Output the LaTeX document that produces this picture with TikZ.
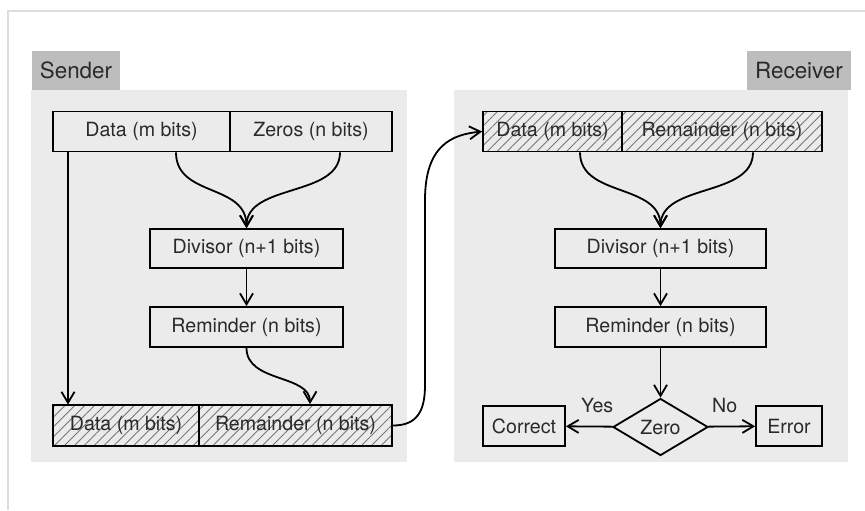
\documentclass[tikz,border=0pt]{standalone}
\usepackage{fontspec}
\setmainfont{TeX Gyre Heros}
\usetikzlibrary{shapes.geometric,arrows.meta,patterns.meta}
\definecolor{panelgray}{HTML}{EBEBEB}
\definecolor{taggray}{HTML}{BDBDBD}
\definecolor{inkgray}{HTML}{2A2A2A}
\definecolor{hatchgray}{HTML}{777777}
\definecolor{framegray}{HTML}{DDDDDD}

\begin{document}
\begin{tikzpicture}[x=0.5pt,y=-0.5pt,
	>={Straight Barb[length=5.5pt,width=6.5pt]},
	field/.style={draw,line width=0.9pt,inner sep=0pt,minimum height=20pt,text=inkgray,font=\fontsize{9.8}{11}\selectfont},
	sent/.style={field,pattern={Lines[angle=45,distance=3.5pt,line width=0.45pt]},pattern color=hatchgray},
	tag/.style={fill=taggray,inner sep=0pt,minimum height=19.5pt,text=inkgray,font=\fontsize{11.2}{13}\selectfont},
	lbl/.style={text=inkgray,font=\fontsize{9.8}{11}\selectfont},
	flow/.style={->,line width=0.9pt}]
			\useasboundingbox (0,0) rectangle (865,510);
			\draw[framegray,line width=0.6pt](8,510)--(8,11)--(865,11);
			\fill[panelgray](31,90) rectangle (407,462);
			\fill[panelgray](454,90) rectangle (848,462);
			\node[tag,minimum width=44pt] (stag) at (76,70.5) {Sender};
			\node[tag,minimum width=52pt] (rtag) at (799,70.5) {Receiver};
			\node[field,minimum width=88.5pt] (sdata) at (141.5,131.5) {Data (m bits)};
			\node[field,minimum width=81pt] (szero) at (311,131.5) {Zeros (n bits)};
			\node[field,minimum width=96.5pt,minimum height=19.5pt] (sdiv) at (246.5,248.5) {Divisor (n+1 bits)};
			\node[field,minimum width=96.5pt] (srem) at (246.5,327) {Reminder (n bits)};
			\node[sent,minimum width=73pt,minimum height=20.5pt] (bdata) at (126,425.5) {Data (m bits)};
			\node[sent,minimum width=96.5pt,minimum height=20.5pt] (brem) at (295.5,425.5) {Remainder (n bits)};
			\node[sent,minimum width=69.5pt] (rdata) at (552.5,131.5) {Data (m bits)};
			\node[sent,minimum width=100pt] (rrem) at (722,131.5) {Remainder (n bits)};
			\node[field,minimum width=105.5pt,minimum height=19.5pt] (rdiv) at (660.5,248.5) {Divisor (n+1 bits)};
			\node[field,minimum width=105.5pt] (rchk) at (660.5,327) {Reminder (n bits)};
			\node[field,diamond,aspect=1.67,minimum width=47.5pt,minimum height=28.5pt] (zero) at (660.5,427) {Zero};
			\node[field,minimum width=41pt] (ok) at (524,426) {Correct};
			\node[field,minimum width=33pt] (err) at (789,426) {Error};
			\coordinate (dtap) at ([xshift=-36.75pt]sdata.south);
			\coordinate (lnkbot) at (425,385);
			\coordinate (lnktop) at (425,200);
			\draw[flow](dtap)--(dtap |- bdata.north);
			\draw[flow]([xshift=17.25pt]sdata.south) .. controls +(0,45) and +(0,-45) .. (sdiv.north);
			\draw[flow]([xshift=14.5pt]szero.south) .. controls +(0,45) and +(0,-45) .. (sdiv.north);
			\draw[flow](sdiv)--(srem);
			\draw[flow](srem.south) .. controls +(0,35) and +(0,-30) .. ([xshift=7.25pt]brem.north);
			\draw[flow](brem.east) .. controls +(25,0) and +(0,25) .. (lnkbot)--(lnktop) .. controls +(0,-55) and +(-30,3) .. (rdata.west);
			\draw[flow]([xshift=13.75pt]rdata.south) .. controls +(0,45) and +(0,-45) .. (rdiv.north);
			\draw[flow]([xshift=15.5pt]rrem.south) .. controls +(0,45) and +(0,-45) .. (rdiv.north);
			\draw[flow](rdiv)--(rchk);
			\draw[flow](rchk)--(zero);
			\draw[flow](zero)--node[lbl,above=3pt,pos=0.33]{Yes}(ok);
			\draw[flow](zero)--node[lbl,above=3pt,pos=0.35]{No}(err);
		\end{tikzpicture}
\end{document}
